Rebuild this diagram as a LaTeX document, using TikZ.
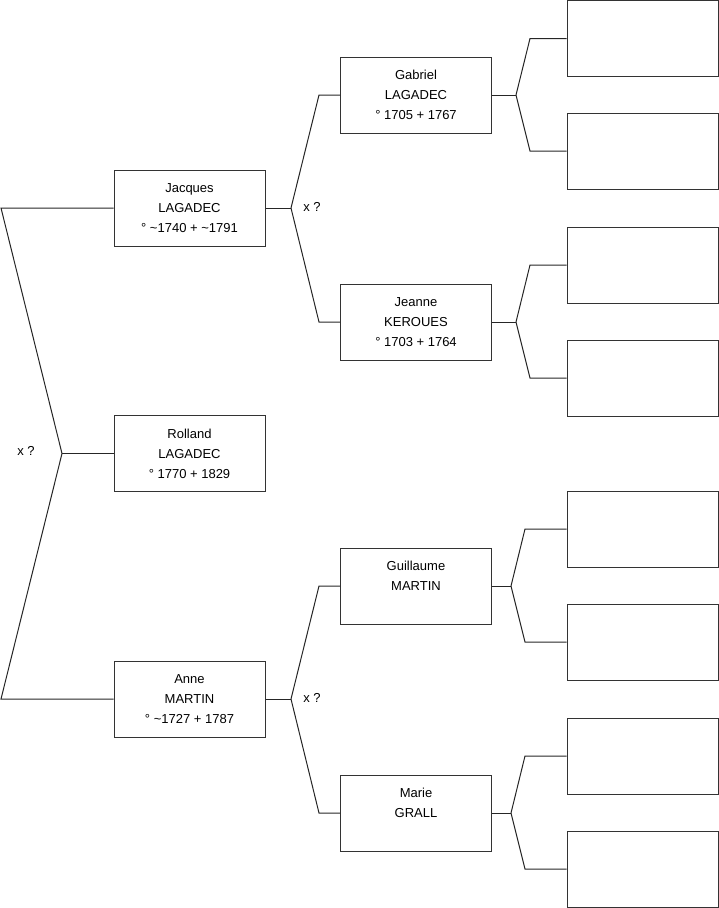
\documentclass[tikz,border=0pt]{standalone}
\usepackage{fontspec}
\setmainfont{Liberation Sans}
\usetikzlibrary{positioning}

\begin{document}
\begin{tikzpicture}[
  x=1pt, y=-1pt,
  person/.style={rectangle, draw=black!80, line width=1pt, minimum width=151pt, minimum height=76pt, inner sep=0pt, align=center, font=\fontsize{13}{20}\selectfont},
  link/.style={draw=black!85, line width=1pt},
  union/.style={inner sep=0pt, font=\fontsize{13}{20}\selectfont}
]
  \useasboundingbox (0,0) rectangle (719,908);
  % generation 1 and 2
  \node[person] (rolland) at (189.5,453.5) {Rolland\\LAGADEC\\° 1770 + 1829};
  \node[person] (jacques) at (189.5,208) {Jacques\\LAGADEC\\° \textasciitilde1740 + \textasciitilde1791};
  \node[person] (anne) at (189.5,699) {Anne\\MARTIN\\° \textasciitilde1727 + 1787};
  % generation 3
  \node[person] (gabriel) at (416,95) {Gabriel\\LAGADEC\\° 1705 + 1767};
  \node[person] (jeanne) at (416,322) {Jeanne\\KEROUES\\° 1703 + 1764};
  \node[person] (guillaume) at (416,586) {Guillaume\\MARTIN\\\mbox{}};
  \node[person] (marie) at (416,813) {Marie\\GRALL\\\mbox{}};
  % generation 4 (empty)
  \node[person] (p1) at (642.5,38.5) {};
  \node[person] (p2) at (642.5,151) {};
  \node[person] (p3) at (642.5,265) {};
  \node[person] (p4) at (642.5,378) {};
  \node[person] (p5) at (642.5,529) {};
  \node[person] (p6) at (642.5,642) {};
  \node[person] (p7) at (642.5,756) {};
  \node[person] (p8) at (642.5,869) {};
  % unions
  \node[union] (u1) at (26,451) {x ?};
  \node[union] (u2) at (312,207) {x ?};
  \node[union] (u3) at (312,698) {x ?};
  % forks
  \coordinate (f1) at (62,453.5);
  \coordinate (f1a) at (1,208);
  \coordinate (f1b) at (1,699);
  \draw[link] (rolland) -- (f1);
  \draw[link] (f1) -- (f1a) -- (jacques);
  \draw[link] (f1) -- (f1b) -- (anne);
  \coordinate (f2) at (291,208);
  \coordinate (f2a) at (319,95);
  \coordinate (f2b) at (319,322);
  \draw[link] (jacques) -- (f2);
  \draw[link] (f2) -- (f2a) -- (gabriel);
  \draw[link] (f2) -- (f2b) -- (jeanne);
  \coordinate (f3) at (291,699);
  \coordinate (f3a) at (319,586);
  \coordinate (f3b) at (319,813);
  \draw[link] (anne) -- (f3);
  \draw[link] (f3) -- (f3a) -- (guillaume);
  \draw[link] (f3) -- (f3b) -- (marie);
  \coordinate (f4) at (516,95);
  \coordinate (f4a) at (530,38.5);
  \coordinate (f4b) at (530,151);
  \draw[link] (gabriel) -- (f4);
  \draw[link] (f4) -- (f4a) -- (p1);
  \draw[link] (f4) -- (f4b) -- (p2);
  \coordinate (f5) at (516,322);
  \coordinate (f5a) at (530,265);
  \coordinate (f5b) at (530,378);
  \draw[link] (jeanne) -- (f5);
  \draw[link] (f5) -- (f5a) -- (p3);
  \draw[link] (f5) -- (f5b) -- (p4);
  \coordinate (f6) at (511,586);
  \coordinate (f6a) at (525,529);
  \coordinate (f6b) at (525,642);
  \draw[link] (guillaume) -- (f6);
  \draw[link] (f6) -- (f6a) -- (p5);
  \draw[link] (f6) -- (f6b) -- (p6);
  \coordinate (f7) at (511,813);
  \coordinate (f7a) at (525,756);
  \coordinate (f7b) at (525,869);
  \draw[link] (marie) -- (f7);
  \draw[link] (f7) -- (f7a) -- (p7);
  \draw[link] (f7) -- (f7b) -- (p8);
\end{tikzpicture}
\end{document}
